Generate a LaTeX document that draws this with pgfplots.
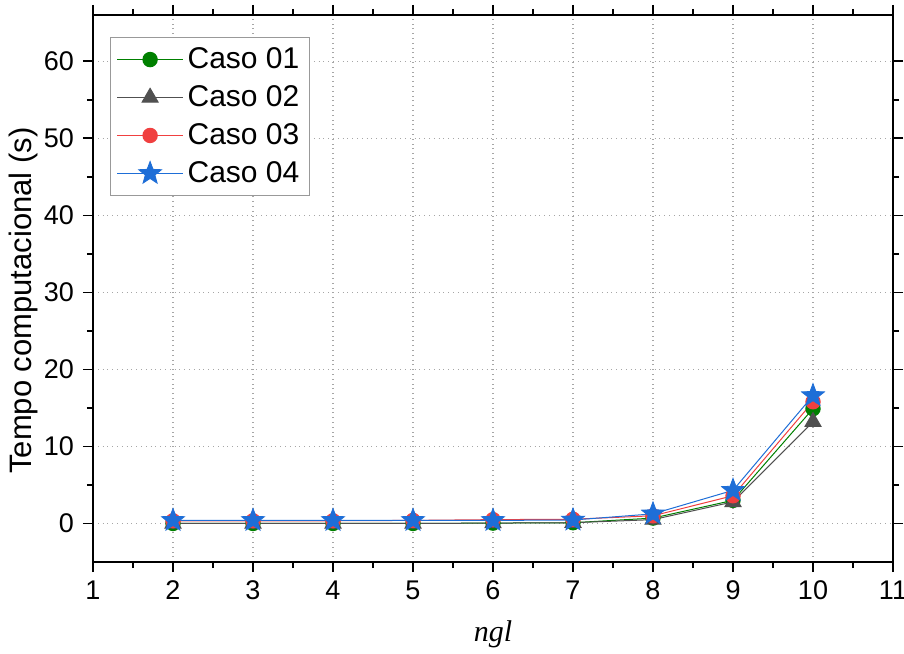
\documentclass[border=0pt]{standalone}
\usepackage{fontspec}
\setmainfont{Liberation Sans}
\newfontfamily\timesfont{Liberation Serif}
\usepackage{pgfplots}
\pgfplotsset{compat=1.18}
\definecolor{cgreen}{RGB}{0,128,0}
\definecolor{cgray}{RGB}{80,80,80}
\definecolor{cred}{RGB}{240,64,64}
\definecolor{cblue}{RGB}{30,110,215}
\pgfdeclareplotmark{fstar}{%
  \pgfpathmoveto{\pgfpointpolar{90}{\pgfplotmarksize}}%
  \pgfpathlineto{\pgfpointpolar{126}{0.42\pgfplotmarksize}}%
  \pgfpathlineto{\pgfpointpolar{162}{\pgfplotmarksize}}%
  \pgfpathlineto{\pgfpointpolar{198}{0.42\pgfplotmarksize}}%
  \pgfpathlineto{\pgfpointpolar{234}{\pgfplotmarksize}}%
  \pgfpathlineto{\pgfpointpolar{270}{0.42\pgfplotmarksize}}%
  \pgfpathlineto{\pgfpointpolar{306}{\pgfplotmarksize}}%
  \pgfpathlineto{\pgfpointpolar{342}{0.42\pgfplotmarksize}}%
  \pgfpathlineto{\pgfpointpolar{18}{\pgfplotmarksize}}%
  \pgfpathlineto{\pgfpointpolar{54}{0.42\pgfplotmarksize}}%
  \pgfpathclose
  \pgfusepathqfillstroke
}
\begin{document}
\begin{tikzpicture}
\begin{axis}[
  scale only axis,
  width=400pt, height=273.5pt,
  xmin=1, xmax=11, ymin=-5, ymax=66,
  xtick={1,2,...,11}, ytick={0,10,...,60},
  minor x tick num=1, minor y tick num=1,
  tick align=outside,
  major tick length=5pt, minor tick length=3pt,
  axis line style={line width=0.9pt},
  every tick/.style={black, line width=0.8pt},
  grid=major,
  major grid style={gray!70, dotted, line width=0.6pt},
  /pgf/number format/assume math mode=true,
  ticklabel style={font=\fontsize{13.5}{15}\selectfont},
  xticklabel style={yshift=-1pt},
  yticklabel style={xshift=-1pt},
  xlabel={\timesfont\itshape ngl},
  xlabel style={font=\fontsize{15}{17}\selectfont, at={(axis description cs:0.5,0)}, anchor=north, yshift=-29pt, inner sep=0pt},
  ylabel={Tempo computacional (s)},
  ylabel style={font=\fontsize{15.5}{17}\selectfont, at={(axis description cs:0,0.478)}, anchor=center, yshift=35pt, inner sep=0pt},
  legend style={at={(axis description cs:0,1)}, anchor=north west, xshift=8.5pt, yshift=-11pt,
    draw=gray!80, line width=0.6pt, font=\fontsize{15}{17}\selectfont, row sep=3pt, inner sep=3pt},
  legend cell align=left,
  legend image code/.code={
    \draw[#1, mark repeat=2, mark phase=2] plot coordinates {(0cm,0cm) (0.58cm,0cm) (1.16cm,0cm)};
  },
]
\addplot[cgreen, line width=0.5pt, mark=*, mark size=3.6pt, mark options={fill=cgreen, draw=cgreen}]
  coordinates {(2,0.0) (3,0.0) (4,0.0) (5,0.0) (6,0.05) (7,0.1) (8,0.7) (9,3.0) (10,14.9)};
\addlegendentry{Caso 01}
\addplot[cgray, line width=0.5pt, mark=triangle*, mark size=4.6pt, mark options={fill=cgray, draw=cgray}]
  coordinates {(2,0.0) (3,0.0) (4,0.0) (5,0.0) (6,0.05) (7,0.1) (8,0.5) (9,2.8) (10,13.2)};
\addlegendentry{Caso 02}
\addplot[cred, line width=0.5pt, mark=*, mark size=3.6pt, mark options={fill=cred, draw=cred}]
  coordinates {(2,0.35) (3,0.35) (4,0.35) (5,0.4) (6,0.5) (7,0.55) (8,1.0) (9,3.6) (10,15.8)};
\addlegendentry{Caso 03}
\addplot[cblue, line width=0.5pt, mark=fstar, mark size=6pt, mark options={fill=cblue, draw=cblue, line width=0.4pt}]
  coordinates {(2,0.4) (3,0.4) (4,0.4) (5,0.4) (6,0.4) (7,0.45) (8,1.25) (9,4.3) (10,16.6)};
\addlegendentry{Caso 04}
\end{axis}
\pgfresetboundingbox
\useasboundingbox ([xshift=-46.5pt,yshift=-45.5pt]current axis.south west) rectangle ([xshift=5.5pt,yshift=7.5pt]current axis.north east);
\end{tikzpicture}
\end{document}
